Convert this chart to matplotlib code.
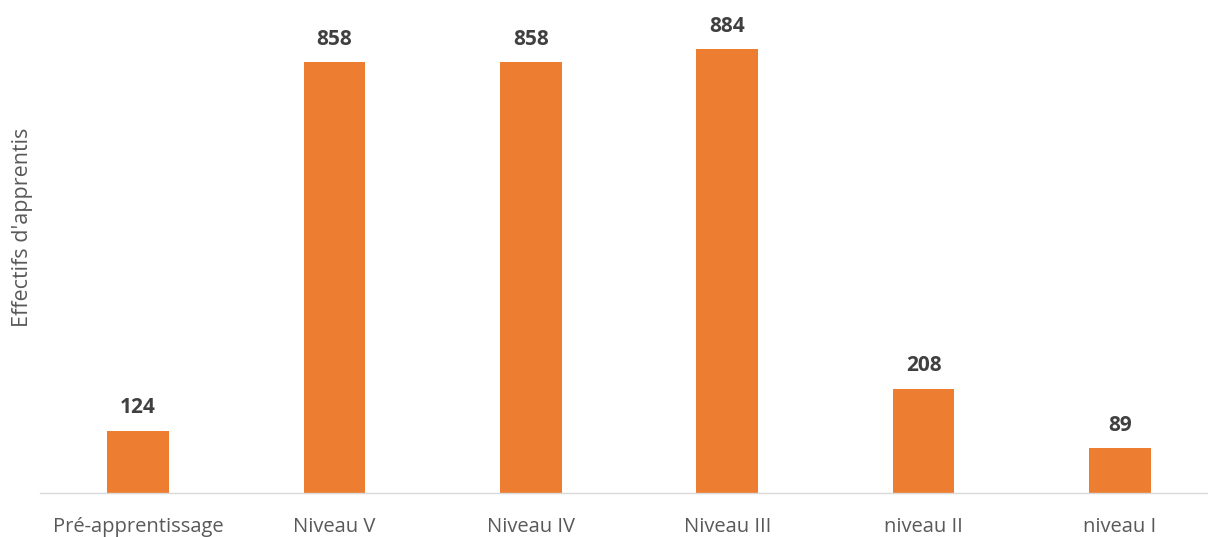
import matplotlib.pyplot as plt

# data
categories = ['Pré-apprentissage', 'Niveau V', 'Niveau IV', 'Niveau III', 'niveau II', 'niveau I']
effectifs = [124, 858, 858, 884, 208, 89]

plt.rcParams['font.family'] = ['Open Sans', 'DejaVu Sans']

fig = plt.figure(figsize=(12.08, 5.37), dpi=100)
W, H = 1208, 537
ax = fig.add_axes([40 / W, 44 / H, 1178 / W, 493 / H])

x = list(range(len(categories)))
bars = ax.bar(x, effectifs, width=0.315, color='#ED7D31')

ax.set_xlim(-0.5, len(categories) - 0.5)
ax.set_ylim(0, 982)

for xi, v in zip(x, effectifs):
    ax.annotate(str(v), (xi, v), xytext=(0, 9), textcoords='offset points',
                ha='center', va='bottom', fontsize=15, fontweight='bold', color='#404040')

ax.set_xticks(x)
ax.set_xticklabels(categories, fontsize=14.5, color='#595959')
ax.tick_params(axis='x', length=0, pad=17)
ax.set_yticks([])

for s in ['top', 'right', 'left']:
    ax.spines[s].set_visible(False)
ax.spines['bottom'].set_color('#D9D9D9')
ax.spines['bottom'].set_linewidth(1)

fig.text(23 / W, 1 - 227 / H, "Effectifs d'apprentis", rotation=90, ha='center', va='center',
         fontsize=15.5, color='#595959')

fig.savefig('out.png', dpi=100)
